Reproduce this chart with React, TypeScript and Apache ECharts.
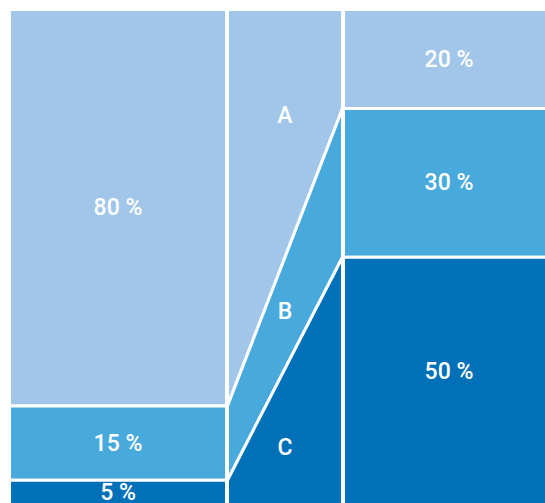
import React, { useEffect, useRef } from "react";
import * as echarts from "echarts";

// ---- data ----
const leftShares = [80, 15, 5];
const leftLabels = ["80 %", "15 %", "5 %"];
const rightShares = [20, 30, 50];
const rightLabels = ["20 %", "30 %", "50 %"];
const flowLabels = ["A", "B", "C"];

// ---- layout / style (not data) ----
const COLORS = ["#A1C6EA", "#48A9DD", "#0070B9"];
const LEFT_COL = [0, 217];
const MID_COL = [218, 333];
const RIGHT_COL = [334, 545];
const FLOW_LABEL_POS = [21.3, 61, 88.3]; // vertical position of A/B/C labels (axis units)
const RIGHT_LABEL_SHIFT = [0, 0, -10]; // px nudges of right labels
const FONT = "Roboto";

type Shape =
  | { kind: "rect"; x0: number; x1: number; y0: number; y1: number; color: string; label: string; dy: number }
  | { kind: "poly"; pts: number[][]; color: string; label: string; labelX: number; labelY: number };

function buildShapes(): Shape[] {
  const shapes: Shape[] = [];
  const cum = (arr: number[]) => {
    const out: number[] = [0];
    arr.forEach((v) => out.push(out[out.length - 1] + v));
    return out;
  };
  const lc = cum(leftShares);
  const rc = cum(rightShares);
  leftShares.forEach((_, i) => {
    shapes.push({ kind: "rect", x0: LEFT_COL[0], x1: LEFT_COL[1], y0: lc[i], y1: lc[i + 1], color: COLORS[i], label: leftLabels[i], dy: 0 });
  });
  flowLabels.forEach((lab, i) => {
    shapes.push({
      kind: "poly",
      pts: [
        [MID_COL[0], lc[i]],
        [MID_COL[1], rc[i]],
        [MID_COL[1], rc[i + 1]],
        [MID_COL[0], lc[i + 1]],
      ],
      color: COLORS[i],
      label: lab,
      labelX: (MID_COL[0] + MID_COL[1]) / 2,
      labelY: FLOW_LABEL_POS[i],
    });
  });
  rightShares.forEach((_, i) => {
    shapes.push({ kind: "rect", x0: RIGHT_COL[0], x1: RIGHT_COL[1], y0: rc[i], y1: rc[i + 1], color: COLORS[i], label: rightLabels[i], dy: RIGHT_LABEL_SHIFT[i] });
  });
  return shapes;
}

export default function App() {
  const ref = useRef<HTMLDivElement>(null);
  useEffect(() => {
    if (!ref.current) return;
    const chart = echarts.init(ref.current, undefined, { renderer: "svg" });
    const shapes = buildShapes();
    const textEl = (text: string, x: number, y: number) => ({
      type: "text",
      style: {
        text,
        x,
        y,
        fill: "#ffffff",
        fontFamily: FONT,
        fontWeight: 500,
        fontSize: 23,
        align: "center",
        verticalAlign: "middle",
      },
      z2: 10,
    });
    chart.setOption({
      animation: false,
      backgroundColor: "#ffffff",
      grid: { left: 9.5, top: 9.5, right: 0, height: 495.5, outerBoundsMode: "none" },
      xAxis: { type: "value", min: 0, max: 535.5, show: false },
      yAxis: { type: "value", min: 0, max: 100, inverse: true, show: false },
      series: [
        {
          type: "custom",
          clip: false,
          data: shapes.map((s) => (s.kind === "rect" ? [(s.x0 + s.x1) / 2, (s.y0 + s.y1) / 2] : [s.labelX, s.labelY])),
          renderItem: (params: any, api: any) => {
            const s = shapes[params.dataIndex];
            if (s.kind === "rect") {
              const p0 = api.coord([s.x0, s.y0]);
              const p1 = api.coord([s.x1, s.y1]);
              const c = api.coord([(s.x0 + s.x1) / 2, (s.y0 + s.y1) / 2]);
              return {
                type: "group",
                children: [
                  {
                    type: "rect",
                    shape: { x: Math.min(p0[0], p1[0]), y: Math.min(p0[1], p1[1]), width: Math.abs(p1[0] - p0[0]), height: Math.abs(p1[1] - p0[1]) },
                    style: { fill: s.color, stroke: "#ffffff", lineWidth: 3 },
                  },
                  textEl(s.label, c[0], c[1] + s.dy),
                ],
              };
            }
            const pts = s.pts.map((p) => api.coord(p));
            const c = api.coord([s.labelX, s.labelY]);
            return {
              type: "group",
              children: [
                {
                  type: "polygon",
                  shape: { points: pts },
                  style: { fill: s.color, stroke: "#ffffff", lineWidth: 3, lineJoin: "miter" },
                },
                textEl(s.label, c[0], c[1]),
              ],
            };
          },
        },
      ],
    });
    return () => chart.dispose();
  }, []);
  return <div ref={ref} style={{ position: "absolute", left: 0, top: 0, width: 545, height: 503 }} />;
}
